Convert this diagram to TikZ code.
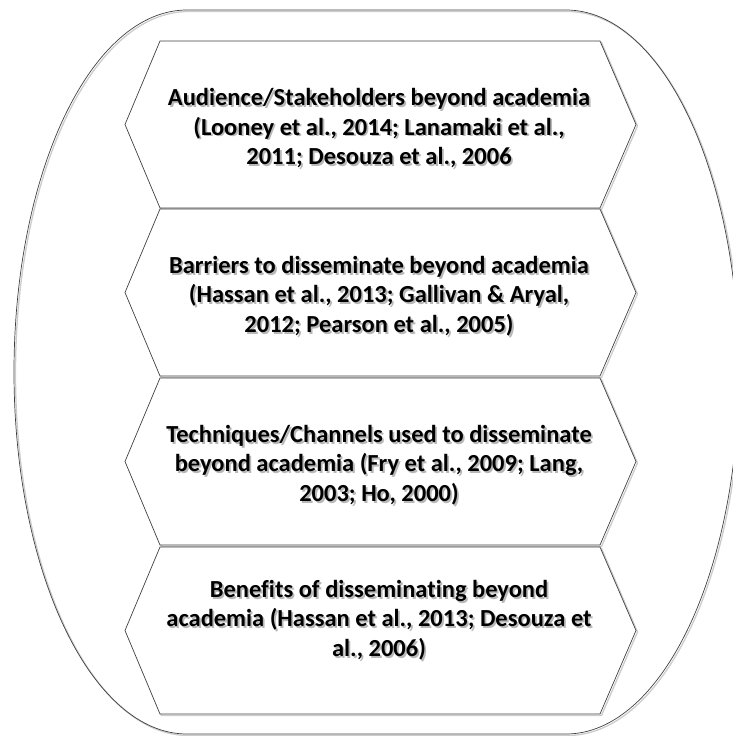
\documentclass[tikz,border=0pt]{standalone}
\usepackage{fontspec}
\setmainfont{Carlito}[Ligatures=NoCommon]
% a line of text with a soft gray copy set slightly right and below it
\newcommand{\shl}[1]{\rlap{\kern1.8pt\raisebox{-1.8pt}{\textcolor{black!28}{#1}}}#1}
\begin{document}
\begin{tikzpicture}[x=1pt,y=-1pt,
  outline/.style={draw=black!75, line width=0.7pt},
  shade/.style={draw=black!20, line width=1.3pt},
  lbl/.style={font=\bfseries\fontsize{24.5}{29.5}\selectfont, align=center, inner sep=0pt}]
\useasboundingbox (0,0) rectangle (733,736);

% outer rounded frame with its soft shadow
\def\frame{(187,10) -- (566,10) arc[start angle=-90, end angle=90, x radius=173, y radius=362]
  -- (187,734) arc[start angle=90, end angle=270, x radius=173, y radius=362] -- cycle}
\draw[shade, shift={(1.5,1.5)}] \frame;
\draw[outline] \frame;

% four stacked hexagon panels
\foreach \t in {41,209,378,547}{
  \draw[shade, shift={(1.5,1.5)}] (160,\t) -- (600,\t) -- (636,{\t+83.5}) -- (600,{\t+167})
    -- (160,{\t+167}) -- (125,{\t+83.5}) -- cycle;
}
\foreach \t in {41,209,378,547}{
  \draw[outline, fill=white] (160,\t) -- (600,\t) -- (636,{\t+83.5}) -- (600,{\t+167})
    -- (160,{\t+167}) -- (125,{\t+83.5}) -- cycle;
}

% panel texts
\node[lbl] (t1) at (379,129) {\shl{Audience/Stakeholders beyond academia}\\\shl{(Looney et al., 2014; Lanamaki et al.,}\\\shl{2011; Desouza et al., 2006}};
\node[lbl] (t2) at (379,297) {\shl{Barriers to disseminate beyond academia}\\\shl{(Hassan et al., 2013; Gallivan \& Aryal,}\\\shl{2012; Pearson et al., 2005)}};
\node[lbl] (t3) at (379,466) {\shl{Techniques/Channels used to disseminate}\\\shl{beyond academia (Fry et al., 2009; Lang,}\\\shl{2003; Ho, 2000)}};
\node[lbl] (t4) at (379,621) {\shl{Benefits of disseminating beyond}\\\shl{academia (Hassan et al., 2013; Desouza et}\\\shl{al., 2006)}};
\end{tikzpicture}
\end{document}
